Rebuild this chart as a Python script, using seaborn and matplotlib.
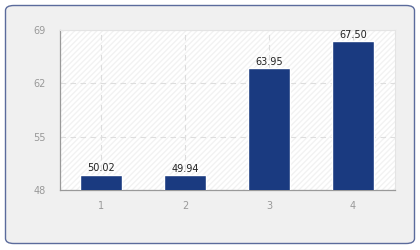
import matplotlib
matplotlib.use("Agg")
import matplotlib.pyplot as plt
import seaborn as sns
import pandas as pd
from matplotlib.patches import FancyBboxPatch, Rectangle

categories = ["1", "2", "3", "4"]
values = [50.02, 49.94, 63.95, 67.50]
yticks = [48, 55, 62, 69]

sns.set_theme(style="white")
plt.rcParams['font.family'] = ['DejaVu Sans']

df = pd.DataFrame({"cat": categories, "val": values})

fig = plt.figure(figsize=(4.2, 2.5), dpi=100)
fig.patch.set_facecolor("white")
box = FancyBboxPatch((5.5/420, 6.5/250), 409/420, 238/250,
                     boxstyle="round,pad=0,rounding_size=0.02",
                     transform=fig.transFigure, facecolor="#f0f0f0",
                     edgecolor="#5b6b9c", linewidth=1.0, zorder=-10)
fig.patches.append(box)

ax = fig.add_axes([60/420, 1-190/250, 335/420, 160/250])
ax.set_zorder(1)
ax.set_facecolor("white")
hatch = Rectangle((0, 0), 1, 1, transform=ax.transAxes, facecolor="white",
                  edgecolor="#f2f2f2", hatch="//////", linewidth=0, zorder=0)
ax.add_patch(hatch)

sns.barplot(data=df, x="cat", y="val", color="#1a3a80", width=0.5,
            saturation=1, ax=ax, zorder=3)

ax.set_ylim(48, 69)
ax.set_xlim(-0.49, 3.5)
ax.set_yticks(yticks)
ax.set_yticklabels([str(t) for t in yticks])
ax.set_xlabel("")
ax.set_ylabel("")

ax.grid(True, axis="both", color="#dddddd", linestyle=(0, (5, 4)), linewidth=0.8, zorder=1)
ax.set_axisbelow(True)

for s in ["top", "right"]:
    ax.spines[s].set_color("#e4e4e4")
    ax.spines[s].set_linewidth(0.8)
for s in ["left", "bottom"]:
    ax.spines[s].set_color("#999999")
    ax.spines[s].set_linewidth(0.9)

ax.tick_params(axis="both", colors="#999999", labelcolor="#999999",
               labelsize=7, length=4, width=0.8, direction="out", pad=6)
ax.tick_params(axis="x", pad=4)

for i, v in enumerate(values):
    ax.text(i, v + 0.2, f"{v:.2f}", ha="center", va="bottom", fontsize=7,
            color="#222222", zorder=5)

fig.savefig("out.png", dpi=100, facecolor=fig.get_facecolor())
